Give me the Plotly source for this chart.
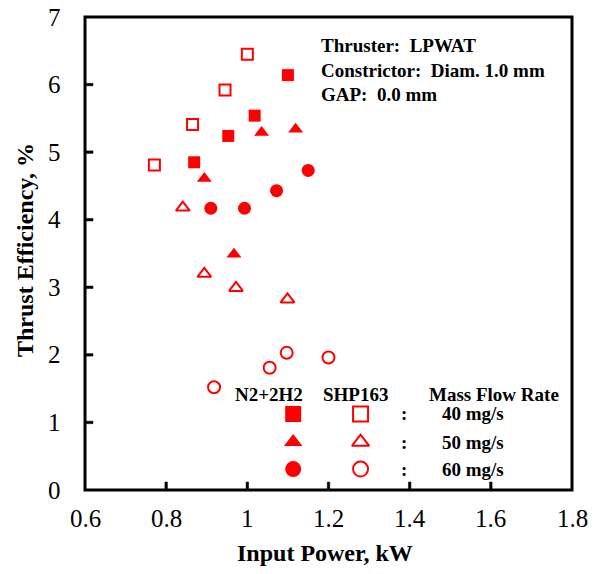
import plotly.graph_objects as go

# ---------------- data ----------------
# N2+2H2 (filled) and SHP163 (open); Input Power [kW], Thrust Efficiency [%]
n2h2_40_x = [0.869, 0.953, 1.018, 1.100]
n2h2_40_y = [4.85, 5.24, 5.54, 6.14]
n2h2_50_x = [0.894, 0.967, 1.035, 1.119]
n2h2_50_y = [4.61, 3.49, 5.29, 5.34]
n2h2_60_x = [0.910, 0.993, 1.072, 1.150]
n2h2_60_y = [4.17, 4.17, 4.43, 4.73]

shp_40_x = [0.771, 0.865, 0.945, 1.000]
shp_40_y = [4.81, 5.41, 5.92, 6.45]
shp_50_x = [0.841, 0.894, 0.972, 1.099]
shp_50_y = [4.18, 3.20, 2.99, 2.82]
shp_60_x = [0.918, 1.055, 1.097, 1.200]
shp_60_y = [1.52, 1.81, 2.03, 1.96]

x_range = [0.6, 1.8]
y_range = [0, 7]
x_ticks = [0.6, 0.8, 1.0, 1.2, 1.4, 1.6, 1.8]
x_tick_labels = ["0.6", "0.8", "1", "1.2", "1.4", "1.6", "1.8"]
y_ticks = [0, 1, 2, 3, 4, 5, 6, 7]
y_tick_labels = ["0", "1", "2", "3", "4", "5", "6", "7"]

x_title = "Input Power, kW"
y_title = "Thrust Efficiency, %"
info_lines = ["Thruster:  LPWAT", "Constrictor:  Diam. 1.0 mm", "GAP:  0.0 mm"]
legend_headers = ["N2+2H2", "SHP163", "Mass Flow Rate"]
legend_rates = ["40 mg/s", "50 mg/s", "60 mg/s"]
legend_filled_x = 1.113
legend_open_x = 1.279
legend_rows_y = [1.125, 0.71, 0.31]

RED = "#FF0000"
FONT = "Liberation Serif"

# page body has an 8px default margin -> shift figure accordingly
OFF = 8
W, H = 599 - OFF, 574 - OFF
L, R, T, B = 85 - OFF, 27, 17 - OFF, 84
pw, ph = W - L - R, H - T - B

def px_x(px):
    return (px - OFF - L) / pw

def px_y(py):
    return (H - (py - OFF) - B) / ph

fig = go.Figure()

def add(xs, ys, symbol, size):
    fig.add_trace(go.Scatter(
        x=xs, y=ys, mode="markers", showlegend=False, hoverinfo="skip",
        marker=dict(symbol=symbol, size=size, color=RED,
                    line=dict(color=RED, width=2 if "open" in symbol else 0)),
    ))

add(n2h2_40_x, n2h2_40_y, "square", 12)
add(n2h2_50_x, n2h2_50_y, "triangle-up", 13)
add(n2h2_60_x, n2h2_60_y, "circle", 13)
add(shp_40_x, shp_40_y, "square-open", 11)
add(shp_50_x, shp_50_y, "triangle-up-open", 12)
add(shp_60_x, shp_60_y, "circle-open", 12)

filled_syms = ["square", "triangle-up", "circle"]
open_syms = ["square-open", "triangle-up-open", "circle-open"]
for sym, yv in zip(filled_syms, legend_rows_y):
    add([legend_filled_x], [yv], sym, 16)
for sym, yv in zip(open_syms, legend_rows_y):
    add([legend_open_x], [yv], sym, 15)

def bold(size):
    return dict(family=FONT, size=size, color="black", weight="bold")

def plain(size):
    return dict(family=FONT, size=size, color="black")

annots = []
info_y = [45.5, 70, 95]
for txt, py in zip(info_lines, info_y):
    annots.append(dict(x=px_x(319), y=px_y(py), xref="paper", yref="paper", text=txt,
                       showarrow=False, xanchor="left", yanchor="middle", font=bold(19)))
hdr_x = [269, 355, 494]
for txt, px in zip(legend_headers, hdr_x):
    annots.append(dict(x=px_x(px), y=px_y(394.5), xref="paper", yref="paper", text=txt,
                       showarrow=False, xanchor="center", yanchor="middle", font=bold(19)))
for txt, yv in zip(legend_rates, legend_rows_y):
    annots.append(dict(x=1.385, y=yv, xref="x", yref="y", text=":",
                       showarrow=False, xanchor="center", yanchor="middle", font=bold(19)))
    annots.append(dict(x=1.555, y=yv, xref="x", yref="y", text=txt,
                       showarrow=False, xanchor="center", yanchor="middle", font=bold(19)))
annots.append(dict(x=px_x(325), y=px_y(553), xref="paper", yref="paper", text=x_title,
                   showarrow=False, xanchor="center", yanchor="middle", font=bold(24)))
annots.append(dict(x=px_x(25), y=px_y(250), xref="paper", yref="paper", text=y_title,
                   showarrow=False, xanchor="center", yanchor="middle", textangle=-90,
                   font=bold(24)))

# tick labels as annotations placed through the axes
for xv, lab in zip(x_ticks, x_tick_labels):
    annots.append(dict(x=xv, y=px_y(518), xref="x", yref="paper", text=lab,
                       showarrow=False, xanchor="center", yanchor="middle", font=plain(25)))
for yv, lab in zip(y_ticks, y_tick_labels):
    annots.append(dict(x=px_x(63), y=yv, xref="paper", yref="y", text=lab,
                       showarrow=False, xanchor="right", yanchor="middle", font=plain(25)))

# frame and inside ticks as paper-referenced shapes (derived from axis ranges and tick arrays)
TL, TW = 8, 2.5
shapes = [dict(type="rect", xref="paper", yref="paper", x0=0, x1=1, y0=0, y1=1,
               line=dict(color="black", width=3), layer="above")]
for xv in x_ticks[1:-1]:
    fx = (xv - x_range[0]) / (x_range[1] - x_range[0])
    shapes.append(dict(type="rect", xref="paper", yref="paper",
                       x0=fx - TW / 2 / pw, x1=fx + TW / 2 / pw, y0=0, y1=TL / ph,
                       fillcolor="black", line=dict(color="black", width=0.5),
                       layer="above"))
for yv in y_ticks[1:-1]:
    fy = (yv - y_range[0]) / (y_range[1] - y_range[0])
    shapes.append(dict(type="rect", xref="paper", yref="paper",
                       x0=0, x1=TL / pw, y0=fy - TW / 2 / ph, y1=fy + TW / 2 / ph,
                       fillcolor="black", line=dict(color="black", width=0.5),
                       layer="above"))

fig.update_layout(
    width=W, height=H,
    margin=dict(l=L, r=R, t=T, b=B, pad=0, autoexpand=False),
    paper_bgcolor="white", plot_bgcolor="white",
    annotations=annots, shapes=shapes,
    font=dict(family=FONT, color="black"),
    xaxis=dict(range=x_range, showticklabels=False, ticks="", showline=False,
               showgrid=False, zeroline=False, automargin=False),
    yaxis=dict(range=y_range, showticklabels=False, ticks="", showline=False,
               showgrid=False, zeroline=False, automargin=False),
)

fig.write_html("out.html")
